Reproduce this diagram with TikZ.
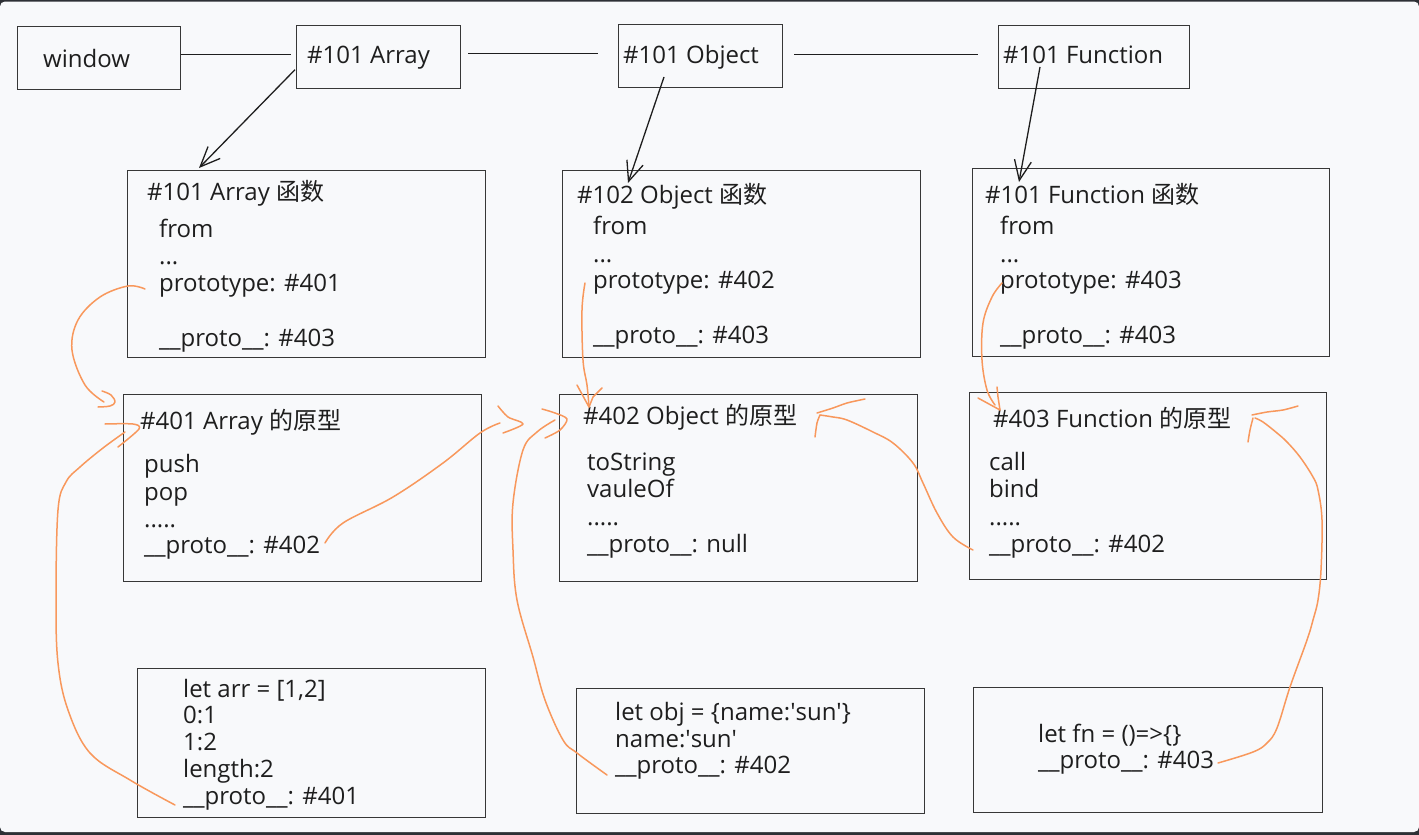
\documentclass[tikz,border=0pt]{standalone}
\usepackage{fontspec}
\setmainfont{Open Sans}
\newfontfamily\cjk{Noto Sans CJK SC}
\usetikzlibrary{arrows.meta}
\definecolor{bgc}{RGB}{248,249,251}
\definecolor{framec}{RGB}{45,48,53}
\definecolor{inkc}{RGB}{30,30,30}
\definecolor{boxc}{RGB}{55,55,55}
\definecolor{orng}{RGB}{248,152,92}
\begin{document}
\begin{tikzpicture}[x=1pt,y=-1pt,
  box/.style={draw=boxc, line width=1.4pt, anchor=north west, inner sep=0pt},
  txt/.style={anchor=base west, inner sep=0pt, text=inkc, font=\fontsize{24}{27}\selectfont},
  blk/.style={draw=inkc, line width=1.3pt},
  arw/.style={blk, -{Straight Barb[length=20pt,width=17pt]}},
  org/.style={draw=orng, line width=1.5pt, line cap=round, line join=round}]
\useasboundingbox (0,0) rectangle (1419,835);
\fill[framec] (0,0) rectangle (1419,835);
\fill[bgc, rounded corners=5pt] (0,1.5) rectangle (1419,832);

% ---- top row
\node[box, minimum width=163pt, minimum height=63pt] (win) at (17,26) {};
\node[box, minimum width=164pt, minimum height=63pt] (topArr) at (296,25) {};
\node[box, minimum width=164pt, minimum height=63pt] (topObj) at (618,24) {};
\node[box, minimum width=191pt, minimum height=63pt] (topFn) at (998,25) {};
\node[txt] (winT) at (43,67) {window};
\node[txt] (topArrT) at (307,63) {\#101 Array};
\node[txt] (topObjT) at (623,63) {\#101 Object};
\node[txt] (topFnT) at (1003,63) {\#101 Function};

% ---- constructor boxes
\node[box, minimum width=358pt, minimum height=187pt] (fArr) at (127,170) {};
\node[box, minimum width=358pt, minimum height=187pt] (fObj) at (562,170) {};
\node[box, minimum width=357pt, minimum height=188pt] (fFn) at (972,168) {};

\node[txt] (fArr0) at (147,200) {\#101 Array {\cjk 函数}};
\node[txt] (fArr1) at (159,237) {from};
\node[txt] (fArr2) at (159,264) {...};
\node[txt] (fArr3) at (159,291) {prototype: \#401};
\node[txt] (fArr4) at (159,346) {\_\_proto\_\_: \#403};

\node[txt] (fObj0) at (577,203) {\#102 Object {\cjk 函数}};
\node[txt] (fObj1) at (593,234) {from};
\node[txt] (fObj2) at (593,262) {...};
\node[txt] (fObj3) at (593,288) {prototype: \#402};
\node[txt] (fObj4) at (593,343) {\_\_proto\_\_: \#403};

\node[txt] (fFn0) at (985,203) {\#101 Function {\cjk 函数}};
\node[txt] (fFn1) at (1000,234) {from};
\node[txt] (fFn2) at (1000,262) {...};
\node[txt] (fFn3) at (1000,288) {prototype: \#403};
\node[txt] (fFn4) at (1000,343) {\_\_proto\_\_: \#403};

% ---- prototype boxes
\node[box, minimum width=358pt, minimum height=187pt] (pArr) at (123,394) {};
\node[box, minimum width=358pt, minimum height=187pt] (pObj) at (559,394) {};
\node[box, minimum width=357pt, minimum height=187pt] (pFn) at (969,392) {};

\node[txt] (pArr0) at (140,429) {\#401 Array {\cjk 的原型}};
\node[txt] (pArr1) at (144,472) {push};
\node[txt] (pArr2) at (144,500) {pop};
\node[txt] (pArr3) at (144,527) {.....};
\node[txt] (pArr4) at (144,553) {\_\_proto\_\_: \#402};

\node[txt] (pObj0) at (583,424) {\#402 Object {\cjk 的原型}};
\node[txt] (pObj1) at (587,470) {toString};
\node[txt] (pObj2) at (587,497) {vauleOf};
\node[txt] (pObj3) at (587,525) {.....};
\node[txt] (pObj4) at (587,552) {\_\_proto\_\_: null};

\node[txt] (pFn0) at (993,427) {\#403 Function {\cjk 的原型}};
\node[txt] (pFn1) at (989,470) {call};
\node[txt] (pFn2) at (989,497) {bind};
\node[txt] (pFn3) at (989,525) {.....};
\node[txt] (pFn4) at (989,552) {\_\_proto\_\_: \#402};

% ---- instance boxes
\node[box, minimum width=348pt, minimum height=149pt] (iArr) at (137,668) {};
\node[box, minimum width=348pt, minimum height=125pt] (iObj) at (576,688) {};
\node[box, minimum width=349pt, minimum height=125pt] (iFn) at (973,687) {};

\node[txt] (iArr0) at (183,697) {let arr = [1,2]};
\node[txt] (iArr1) at (183,723) {0:1};
\node[txt] (iArr2) at (183,750) {1:2};
\node[txt] (iArr3) at (183,777) {length:2};
\node[txt] (iArr4) at (183,804) {\_\_proto\_\_: \#401};

\node[txt] (iObj0) at (615,720) {let obj = \{name:\textquotesingle sun\textquotesingle\}};
\node[txt] (iObj1) at (615,747) {name:\textquotesingle sun\textquotesingle};
\node[txt] (iObj2) at (615,773) {\_\_proto\_\_: \#402};

\node[txt] (iFn0) at (1038,742) {let fn = ()=>\{\}};
\node[txt] (iFn1) at (1038,768) {\_\_proto\_\_: \#403};

% ---- black connectors
\draw[blk] ([yshift=3.5pt]win.east) -- ([yshift=2.5pt,xshift=-5pt]topArr.west);
\draw[blk] ([yshift=3.5pt,xshift=7pt]topArr.east) -- ([yshift=2.5pt,xshift=-20pt]topObj.west);
\draw[blk] ([yshift=1.5pt,xshift=11pt]topObj.east) -- ([yshift=2.5pt,xshift=-20pt]topFn.west);

\draw[arw] ([yshift=-12.5pt,xshift=-1pt]topArr.west) -- ([xshift=72pt,yshift=2pt]fArr.north west);
\draw[arw] ([xshift=46pt,yshift=-53pt]topObj.north west) -- ([xshift=66pt,yshift=-13pt]fObj.north west);
\draw[arw] ([xshift=42pt,yshift=-42pt]topFn.north west) -- ([xshift=47pt,yshift=-14pt]fFn.north west);

% ---- orange hand-drawn connectors
\coordinate (s1) at (145,289); \coordinate (t1) at (104,402);
\draw[org] plot[smooth, tension=0.6] coordinates {(s1) (128,286) (100,297) (78,320) (72,350) (85,385) (t1)};
\draw[org] plot[smooth, tension=0.6] coordinates {(102,391) (111,395) (115,402) (110,406) (98,407)};

\coordinate (s2) at (175,805); \coordinate (t2) at (125,432);
\draw[org] plot[smooth, tension=0.6] coordinates {(s2) (130,780) (90,753) (68,710) (58,663) (56,600) (58,510) (66,482) (80,467) (103,448) (t2)};
\draw[org] plot[smooth, tension=0.5] coordinates {(105,424) (133,424) (139,429) (118,447)};

\coordinate (s3) at (325,543); \coordinate (t3) at (500,423);
\draw[org] plot[smooth, tension=0.6] coordinates {(s3) (343,523) (393,497) (443,463) (480,433) (t3)};
\draw[org] plot[smooth, tension=0.5] coordinates {(498,406) (508,417) (523,424) (503,433)};

\coordinate (s4) at (607,775); \coordinate (t4) at (555,420);
\draw[org] plot[smooth, tension=0.6] coordinates {(s4) (577,753) (563,740) (545,700) (533,657) (517,600) (513,550) (513,503) (523,450) (537,432) (t4)};
\draw[org] plot[smooth, tension=0.5] coordinates {(542,409) (555,413) (567,419) (560,430) (545,438)};

\coordinate (s5) at (585,283); \coordinate (t5) at (589,407);
\draw[org] plot[smooth, tension=0.6] coordinates {(s5) (582,310) (583,360) (587,385) (t5)};
\draw[org] (577,385) -- (t5) -- (593,397) -- (602,388);

\coordinate (s6) at (973,550); \coordinate (t6) at (820,415);
\draw[org] plot[smooth, tension=0.6] coordinates {(s6) (953,537) (937,513) (923,483) (913,463) (893,443) (873,432) (847,420) (833,417) (t6)};
\draw[org] plot[smooth, tension=0.5] coordinates {(815,437) (817,423) (t6)};
\draw[org] plot[smooth, tension=0.5] coordinates {(817,413) (833,408) (847,403) (865,399)};

\coordinate (s7) at (1002,283); \coordinate (t7) at (1000,410);
\draw[org] plot[smooth, tension=0.6] coordinates {(s7) (992,297) (983,323) (982,360) (987,390) (995,405)};
\draw[org] (978,398) -- (t7);
\draw[org] (997,387) -- (998,397) -- (t7);

\coordinate (s8) at (1218,763); \coordinate (t8) at (1255,418);
\draw[org] plot[smooth, tension=0.6] coordinates {(s8) (1253,752) (1267,743) (1277,728) (1290,687) (1307,640) (1313,620) (1318,600) (1321,570) (1322,520) (1318,490) (1313,477) (1300,457) (1287,442) (1277,433) (1263,422) (t8)};
\draw[org] plot[smooth, tension=0.5] coordinates {(1248,442) (1250,430) (1253,418)};
\draw[org] plot[smooth, tension=0.5] coordinates {(1252,415) (1267,412) (1283,410) (1298,406)};
\end{tikzpicture}
\end{document}
